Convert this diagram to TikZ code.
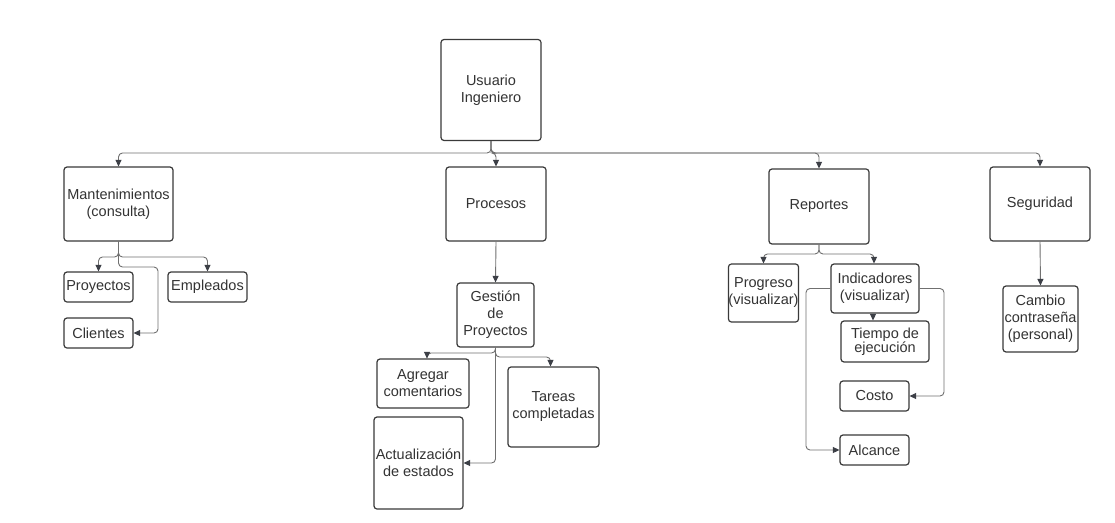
\documentclass[tikz,border=0pt]{standalone}
\usepackage{fontspec}
\setmainfont{Liberation Sans}
\usetikzlibrary{arrows.meta}
\definecolor{boxc}{HTML}{3A3A3A}
\definecolor{linec}{HTML}{707070}
\definecolor{tipc}{HTML}{3C3F46}
\definecolor{txtc}{HTML}{333333}
\begin{document}
\begin{tikzpicture}[x=1pt,y=-1pt,
  bx/.style={draw=boxc, line width=1.2pt, rounded corners=3pt, align=center,
    inner sep=0pt, text=txtc, font=\fontsize{14.5}{17}\selectfont},
  conn/.style={draw=linec, line width=0.9pt, rounded corners=4pt,
    -{Triangle[length=6.5pt,width=6pt,color=tipc]}}]
\useasboundingbox (0,0) rectangle (1115,522);
\fill[white] (0,0) rectangle (1115,522);
% nodes
\node[bx, minimum width=100pt, minimum height=101pt] (u) at (491,90) {Usuario\\Ingeniero};
\node[bx, minimum width=109pt, minimum height=74pt] (mant) at (118.5,204) {Mantenimientos\\(consulta)};
\node[bx, minimum width=100pt, minimum height=74pt] (proc) at (496,204) {Procesos};
\node[bx, minimum width=100pt, minimum height=75pt] (rep) at (819,206.5) {Reportes};
\node[bx, minimum width=100pt, minimum height=74pt] (seg) at (1040,204) {Seguridad};
\node[bx, minimum width=69pt, minimum height=30pt] (proy) at (98.5,287) {Proyectos};
\node[bx, minimum width=79pt, minimum height=30pt] (emp) at (207.5,287) {Empleados};
\node[bx, minimum width=69pt, minimum height=30pt] (cli) at (98.5,333) {Clientes};
\node[bx, minimum width=77pt, minimum height=64pt] (gest) at (495.5,315) {Gestión\\de\\Proyectos};
\node[bx, minimum width=92pt, minimum height=49pt] (agr) at (423,383.5) {Agregar\\comentarios};
\node[bx, minimum width=89pt, minimum height=92pt] (act) at (418.5,463) {Actualización\\de estados};
\node[bx, minimum width=91pt, minimum height=80pt] (tar) at (553.5,407) {Tareas\\completadas};
\node[bx, minimum width=69pt, minimum height=58pt] (prog) at (763.5,293) {Progreso\\(visualizar)};
\node[bx, minimum width=88pt, minimum height=49pt] (ind) at (875,288.5) {Indicadores\\(visualizar)};
\node[bx, minimum width=88pt, minimum height=41pt] (tiem) at (885,341.5) {\raisebox{-4pt}[0pt][0pt]{\begin{tabular}{@{}c@{}}Tiempo de\\[-2.5pt]ejecución\end{tabular}}};
\node[bx, minimum width=69pt, minimum height=30pt] (cost) at (874.5,396) {Costo};
\node[bx, minimum width=69pt, minimum height=30pt] (alc) at (874.5,450) {Alcance};
\node[bx, minimum width=75pt, minimum height=66pt] (cam) at (1040.5,319) {Cambio\\contraseña\\(personal)};
% bend coordinates
\coordinate (bus) at (0,153);
\coordinate (ms) at (0,257);
\coordinate (cr) at (158,267);
\coordinate (gs1) at (0,353);
\coordinate (gs2) at (0,357);
\coordinate (rs) at (0,254);
\coordinate (cc) at (944,0);
\coordinate (ac) at (806,0);
% top level connectors
\draw[conn] (u.south) |- (mant.north |- bus) -- (mant.north);
\draw[conn] (u.south) |- (proc.north |- bus) -- (proc.north);
\draw[conn] (u.south) |- (rep.north |- bus) -- (rep.north);
\draw[conn] (u.south) |- (seg.north |- bus) -- (seg.north);
% Mantenimientos
\draw[conn] (mant.south) |- (proy.north |- ms) -- (proy.north);
\draw[conn] (mant.south) |- (emp.north |- ms) -- (emp.north);
\draw[conn] (mant.south) |- (cr) |- (cli.east);
% Procesos
\draw[conn] (proc.south) -- (gest.north);
\draw[conn] (gest.south) |- ([xshift=4pt]agr.north |- gs1) -- ([xshift=4pt]agr.north);
\draw[conn] (gest.south) |- ([xshift=-3pt]tar.north |- gs2) -- ([xshift=-3pt]tar.north);
\draw[conn] (gest.south) |- (act.east);
% Reportes
\draw[conn] (rep.south) |- (prog.north |- rs) -- (prog.north);
\draw[conn] (rep.south) |- ([xshift=-1pt]ind.north |- rs) -- ([xshift=-1pt]ind.north);
\draw[conn] ([xshift=-2pt]ind.south) -- ([xshift=-2pt]ind.south |- tiem.north);
\draw[conn] (ind.east) -| (cc |- cost.east) -- (cost.east);
\draw[conn] (ind.west) -| (ac |- alc.west) -- (alc.west);
% Seguridad
\draw[conn] (seg.south) -- (cam.north);
\end{tikzpicture}
\end{document}
